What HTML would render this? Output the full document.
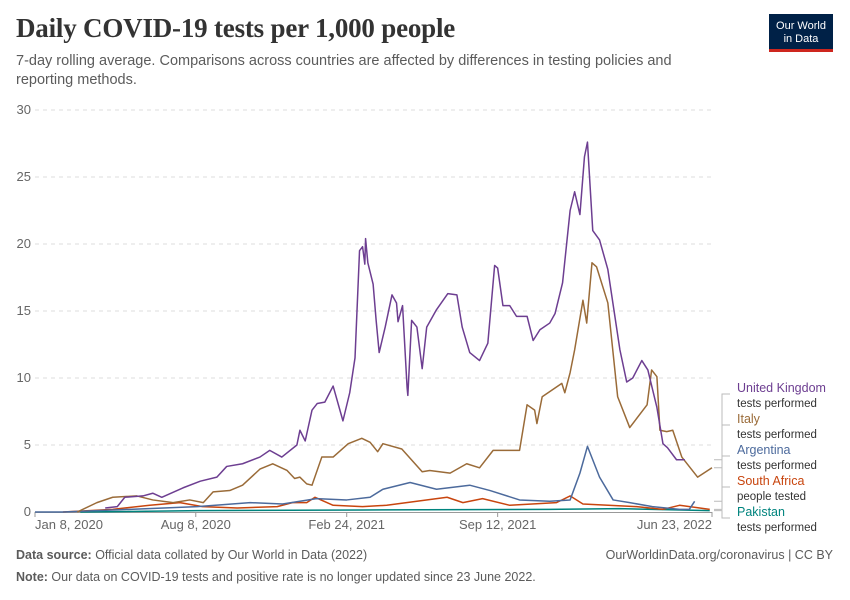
<!DOCTYPE html>
<html><head><meta charset="utf-8">
<style>
body{margin:0;width:850px;height:600px;background:#fff;font-family:"Liberation Sans",sans-serif;overflow:hidden;position:relative}
.t{position:absolute;left:16px;top:13px;font-family:"Liberation Serif",serif;font-size:27px;color:#333;font-weight:bold;letter-spacing:-0.2px}
.st{position:absolute;left:16px;top:52px;font-size:14.5px;color:#5b5b5b;line-height:19px;width:700px}
.logo{position:absolute;left:769px;top:14px;width:64px;height:38px;background:#002147;color:#fff;font-size:11px;text-align:center;line-height:13px;box-sizing:border-box;padding-top:6px;border-bottom:3px solid #ce261e}
.f{position:absolute;font-size:12.5px;color:#5b5b5b}
</style></head><body>
<div class="t">Daily COVID-19 tests per 1,000 people</div>
<div class="st">7-day rolling average. Comparisons across countries are affected by differences in testing policies and reporting methods.</div>
<div class="logo">Our World<br>in Data</div>
<svg id="c" width="850" height="600" style="position:absolute;left:0;top:0"></svg>
<div class="f" style="left:16px;top:548px"><b>Data source:</b> Official data collated by Our World in Data (2022)</div>
<div class="f" style="right:17px;top:548px">OurWorldinData.org/coronavirus | CC BY</div>
<div class="f" style="left:16px;top:570px"><b>Note:</b> Our data on COVID-19 tests and positive rate is no longer updated since 23 June 2022.</div>
<script>
const yTicks=[0,5,10,15,20,25,30];
const xTickDays=[0,213,413,613,897];
const xTickLabels=["Jan 8, 2020","Aug 8, 2020","Feb 24, 2021","Sep 12, 2021","Jun 23, 2022"];
const ukDays=[93,109,119,143,156,168,196,219,241,254,275,298,311,327,347,351,358,367,374,384,395,408,417,424,430,434,437,438,441,448,452,456,464,473,479,481,487,493,494,499,506,513,519,532,547,559,566,576,589,600,609,613,620,629,638,652,660,669,682,689,699,709,715,722,728,732,739,748,759,775,784,792,804,812,824,832,838,850,861];
const ukVals=[0.3,0.4,1.1,1.2,1.4,1.1,1.8,2.3,2.6,3.4,3.6,4.1,4.6,4.1,5.0,6.1,5.3,7.6,8.1,8.2,9.4,6.8,8.9,11.5,19.5,19.8,18.5,20.4,18.6,17,14.3,11.9,13.8,16.2,15.6,14.2,15.4,9.3,8.7,14.3,13.8,10.7,13.8,15.1,16.3,16.2,13.8,11.9,11.3,12.6,18.4,18.2,15.4,15.4,14.6,14.6,12.8,13.6,14.1,14.8,17.1,22.5,23.9,22.2,26.5,27.6,21.0,20.3,18.1,12.1,9.7,10.0,11.3,10.6,7.8,5.1,4.8,3.9,3.9];
const itDays=[56,82,103,135,156,183,205,223,236,258,275,298,315,334,344,351,360,367,380,395,415,433,444,454,461,486,513,523,550,572,589,607,642,652,662,665,672,698,702,709,715,726,731,738,744,759,772,788,811,817,824,828,837,845,857,878,897];
const itVals=[0,0.7,1.1,1.2,0.9,0.7,0.9,0.7,1.5,1.6,2.0,3.2,3.6,3.1,2.5,2.6,2.1,2.0,4.1,4.1,5.1,5.5,5.2,4.5,5.1,4.7,3.0,3.1,2.9,3.6,3.3,4.6,4.6,8.0,7.6,6.6,8.6,9.6,8.9,10.4,12.1,15.8,14.1,18.6,18.3,15.6,8.6,6.3,8.0,10.6,10.1,6.1,6.0,6.1,4.1,2.6,3.3];
const arDays=[0,37,215,285,328,373,413,444,461,497,532,576,603,642,682,709,722,732,748,766,788,818,854,867,874];
const arVals=[0,0,0.4,0.7,0.6,1.0,0.9,1.1,1.7,2.2,1.7,2.0,1.6,0.9,0.8,0.9,2.9,4.9,2.6,0.9,0.7,0.4,0.2,0.2,0.8];
const zaDays=[37,103,152,192,222,268,321,341,360,371,395,434,466,546,567,593,629,691,709,726,797,832,854,894];
const zaVals=[0,0.2,0.5,0.7,0.4,0.3,0.4,0.7,0.7,1.1,0.5,0.4,0.5,1.1,0.7,1.0,0.5,0.7,1.2,0.6,0.4,0.2,0.5,0.2];
const pkDays=[60,215,434,682,774,894];
const pkVals=[0,0.1,0.15,0.2,0.25,0.1];

const X0=35,X1=712,Y0=512,Y1=110,DMAX=897,VMAX=30;
const xs=d=>X0+(X1-X0)*d/DMAX;
const ys=v=>Y0-(Y0-Y1)*v/VMAX;
const svg=document.getElementById('c');
const NS='http://www.w3.org/2000/svg';
function mk(tag,attrs){const e=document.createElementNS(NS,tag);for(const k in attrs)e.setAttribute(k,attrs[k]);svg.appendChild(e);return e;}
yTicks.forEach(t=>{
  if(t>0){const g=mk('line',{x1:X0,x2:X1,y1:ys(t),y2:ys(t),stroke:'#ddd','stroke-dasharray':'4,4'});
  
  }
  const tx=mk('text',{x:31,y:ys(t)+4,'text-anchor':'end','font-size':13,fill:'#666'});
  tx.textContent=t;
  
  
});
const ax=mk('line',{x1:X0,x2:X1,y1:Y0+0.5,y2:Y0+0.5,stroke:'#999'});


xTickDays.forEach((d,i)=>{
  const l=mk('line',{x1:xs(d),x2:xs(d),y1:Y0,y2:Y0+5,stroke:'#999'});
  
  
  const anchor=i==0?'start':(i==xTickDays.length-1?'end':'middle');
  const tx=mk('text',{x:xs(d),y:Y0+17,'text-anchor':anchor,'font-size':13,fill:'#666'});
  tx.textContent=xTickLabels[i];
  
  
});
function series(days,vals,color,name){
  const p=mk('polyline',{points:days.map((d,i)=>xs(d)+','+ys(vals[i])).join(' '),fill:'none',stroke:color,'stroke-width':1.5,'stroke-linejoin':'round'});
  
  
}
series(pkDays,pkVals,'#00847e','line-pakistan');
series(zaDays,zaVals,'#c8450e','line-south-africa');
series(arDays,arVals,'#4c6a9c','line-argentina');
series(itDays,itVals,'#9a6b38','line-italy');
series(ukDays,ukVals,'#6d3e91','line-united-kingdom');
const labels=[["United Kingdom","tests performed",'#6d3e91',392,ukVals[ukVals.length-1]],["Italy","tests performed",'#9a6b38',423,itVals[itVals.length-1]],["Argentina","tests performed",'#4c6a9c',454,arVals[arVals.length-1]],["South Africa","people tested",'#c8450e',485,zaVals[zaVals.length-1]],["Pakistan","tests performed",'#00847e',516,pkVals[pkVals.length-1]]];
labels.forEach((L,i)=>{
  const ly=L[3];const vy=ys(L[4]);
  const c=mk('polyline',{points:`714,${vy} 722,${vy} 722,${ly+2} 730,${ly+2}`,fill:'none',stroke:'#bbb','stroke-width':1});
  
  
  const t=mk('text',{x:737,y:ly,'font-size':12.5,fill:L[2]});
  t.textContent=L[0];
  
  
  const t2=mk('text',{x:737,y:ly+15,'font-size':11.5,fill:'#333'});
  t2.textContent=L[1];
  
  
});
</script>
</body></html>
